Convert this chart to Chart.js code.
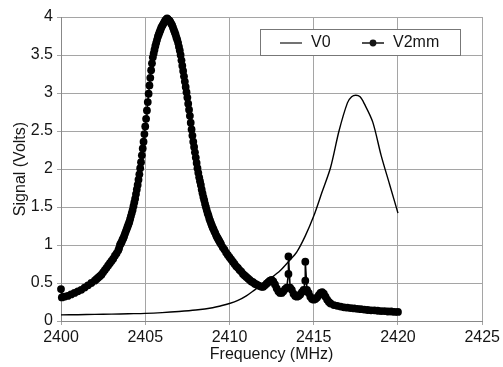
<!DOCTYPE html>
<html>
<head>
<meta charset="utf-8">
<script src="https://cdn.jsdelivr.net/npm/chart.js@4.4.0/dist/chart.umd.min.js"></script>
<style>
  html, body { margin: 0; padding: 0; background: #fff; }
</style>
</head>
<body>
<canvas id="chart" width="503" height="367"></canvas>
<script>
// tick labels
const xTicks = [2400, 2405, 2410, 2415, 2420, 2425];
const yTicks = ["0", "0.5", "1", "1.5", "2", "2.5", "3", "3.5", "4"];
const seriesNames = ["V0", "V2mm"];

// V0 - thin line
const v0Freq = [
  2400, 2401, 2402, 2403, 2404, 2405, 2406, 2407, 2408, 2409,
  2409.5, 2410, 2410.5, 2411, 2411.5, 2412, 2412.5, 2413, 2413.5, 2414,
  2414.5, 2415, 2415.5, 2416, 2416.5, 2417, 2417.25, 2417.5, 2417.75, 2418,
  2418.5, 2419, 2419.5, 2420
];
const v0Signal = [
  0.08, 0.083, 0.087, 0.09, 0.095, 0.10, 0.11, 0.125, 0.145, 0.175,
  0.20, 0.23, 0.27, 0.33, 0.41, 0.49, 0.57, 0.66, 0.78, 0.91,
  1.12, 1.38, 1.70, 2.02, 2.50, 2.87, 2.95, 2.97, 2.95, 2.86,
  2.62, 2.18, 1.80, 1.42
];

// V2mm - dotted series
const v2mmFreq = [
  // left tail
  2400, 2400.05, 2400.2, 2400.4, 2400.6, 2400.8, 2401, 2401.2, 2401.4, 2401.6,
  2401.8, 2402, 2402.1, 2402.2, 2402.3, 2402.4, 2402.5, 2402.6, 2402.7, 2402.8,
  2402.9, 2403, 2403.1, 2403.2, 2403.3, 2403.4, 2403.45,
  // peak
  2403.5, 2403.55, 2403.6, 2403.65, 2403.7, 2403.75, 2403.8, 2403.85, 2403.9, 2403.95,
  2404, 2404.05, 2404.1, 2404.15, 2404.2, 2404.25, 2404.3, 2404.35, 2404.4, 2404.45,
  2404.5, 2404.55, 2404.6, 2404.65, 2404.7, 2404.75, 2404.8, 2404.85, 2404.9, 2404.95,
  2405, 2405.05, 2405.1, 2405.15, 2405.2, 2405.25, 2405.3, 2405.35, 2405.4, 2405.45,
  2405.5, 2405.55, 2405.6, 2405.65, 2405.7, 2405.75, 2405.8, 2405.85, 2405.9, 2405.95,
  2406, 2406.05, 2406.1, 2406.15, 2406.2, 2406.25, 2406.3, 2406.35, 2406.4, 2406.45,
  2406.5, 2406.55, 2406.6, 2406.65, 2406.7, 2406.75, 2406.8, 2406.85, 2406.9, 2406.95,
  2407, 2407.05, 2407.1, 2407.15, 2407.2, 2407.25, 2407.3, 2407.35, 2407.4, 2407.45,
  2407.5, 2407.55, 2407.6, 2407.65, 2407.7, 2407.75, 2407.8, 2407.85, 2407.9, 2407.95,
  2408, 2408.05, 2408.1, 2408.15, 2408.2, 2408.25, 2408.3, 2408.35, 2408.4, 2408.45,
  2408.5, 2408.55, 2408.6, 2408.65, 2408.7, 2408.75, 2408.8, 2408.85, 2408.9, 2408.95,
  2409, 2409.05, 2409.1, 2409.15, 2409.2, 2409.25, 2409.3, 2409.35, 2409.4, 2409.45,
  2409.5,
  // right tail
  2409.6, 2409.7, 2409.8, 2409.9, 2410, 2410.1, 2410.2, 2410.3, 2410.4, 2410.5,
  2410.6, 2410.7, 2410.8, 2410.9, 2411, 2411.1, 2411.2, 2411.3, 2411.4, 2411.5,
  2411.6, 2411.7, 2411.8, 2411.9, 2412,
  // ripples
  2412.1, 2412.2, 2412.3, 2412.4, 2412.5, 2412.6, 2412.7, 2412.8, 2412.9, 2413,
  2413.1, 2413.2, 2413.3, 2413.4, 2413.5, 2413.5, 2413.6, 2413.7, 2413.8, 2413.9,
  2414, 2414.1, 2414.2, 2414.3, 2414.4, 2414.5, 2414.5, 2414.6, 2414.7, 2414.8,
  2414.9, 2415, 2415.1, 2415.2, 2415.3, 2415.4, 2415.5, 2415.6, 2415.7, 2415.8,
  2415.9, 2416,
  // end
  2416.2, 2416.4, 2416.6, 2416.8, 2417, 2417.2, 2417.4, 2417.6, 2417.8, 2418,
  2418.2, 2418.4, 2418.6, 2418.8, 2419, 2419.2, 2419.4, 2419.6, 2419.8, 2420
];
const v2mmSignal = [
  // left tail
  0.42, 0.31, 0.32, 0.33, 0.35, 0.37, 0.39, 0.41, 0.44, 0.47,
  0.50, 0.53, 0.55, 0.57, 0.59, 0.61, 0.64, 0.67, 0.70, 0.73,
  0.76, 0.79, 0.82, 0.86, 0.89, 0.93, 0.96,
  // peak
  1.00, 1.02, 1.04, 1.07, 1.09, 1.12, 1.15, 1.18, 1.21, 1.24,
  1.27, 1.30, 1.34, 1.38, 1.42, 1.46, 1.51, 1.56, 1.61, 1.67,
  1.73, 1.79, 1.86, 1.93, 2.01, 2.09, 2.18, 2.27, 2.36, 2.46,
  2.56, 2.66, 2.77, 2.88, 2.99, 3.10, 3.20, 3.30, 3.39, 3.47,
  3.52, 3.57, 3.62, 3.66, 3.70, 3.74, 3.77, 3.80, 3.83, 3.86,
  3.88, 3.90, 3.92, 3.94, 3.96, 3.97, 3.98, 3.97, 3.96, 3.95,
  3.93, 3.91, 3.89, 3.86, 3.83, 3.80, 3.77, 3.73, 3.70, 3.66,
  3.61, 3.56, 3.50, 3.43, 3.36, 3.29, 3.22, 3.15, 3.08, 3.01,
  2.94, 2.86, 2.78, 2.70, 2.61, 2.52, 2.44, 2.36, 2.29, 2.22,
  2.15, 2.08, 2.01, 1.95, 1.89, 1.84, 1.79, 1.73, 1.68, 1.63,
  1.59, 1.54, 1.50, 1.46, 1.42, 1.39, 1.35, 1.32, 1.29, 1.26,
  1.23, 1.21, 1.18, 1.16, 1.13, 1.11, 1.09, 1.07, 1.05, 1.03,
  1.01,
  // right tail
  0.97, 0.94, 0.90, 0.87, 0.84, 0.81, 0.78, 0.75, 0.72, 0.70,
  0.67, 0.65, 0.62, 0.60, 0.58, 0.56, 0.54, 0.52, 0.51, 0.49,
  0.48, 0.47, 0.46, 0.45, 0.45,
  // ripples
  0.47, 0.49, 0.51, 0.53, 0.54, 0.52, 0.48, 0.43, 0.39, 0.37,
  0.37, 0.39, 0.42, 0.44, 0.62, 0.85, 0.44, 0.41, 0.36, 0.33,
  0.32, 0.33, 0.35, 0.38, 0.41, 0.53, 0.78, 0.41, 0.37, 0.32,
  0.29, 0.28, 0.29, 0.31, 0.34, 0.37, 0.38, 0.36, 0.32, 0.28,
  0.25, 0.23,
  // end
  0.21, 0.20, 0.19, 0.18, 0.175, 0.17, 0.165, 0.16, 0.155, 0.15,
  0.145, 0.14, 0.14, 0.135, 0.13, 0.13, 0.125, 0.125, 0.12, 0.12
];

function toPoints(xs, ys) {
  return xs.map((x, i) => ({ x: x, y: ys[i] }));
}

const FONT = "'Liberation Sans', Arial, sans-serif";
const INK = "#151515";

// legend drawn in a box inside the plot, like the original
const legendBox = {
  id: "legendBox",
  afterDraw(chart) {
    const ctx = chart.ctx;
    ctx.save();
    ctx.fillStyle = "#fff";
    ctx.fillRect(260.5, 29.5, 200, 26);
    ctx.strokeStyle = "#777";
    ctx.lineWidth = 1;
    ctx.strokeRect(260.5, 29.5, 200, 26);

    ctx.strokeStyle = INK;
    ctx.lineWidth = 1.2;
    ctx.beginPath();
    ctx.moveTo(280, 43);
    ctx.lineTo(302, 43);
    ctx.stroke();

    ctx.lineWidth = 1.5;
    ctx.beginPath();
    ctx.moveTo(362, 43);
    ctx.lineTo(384, 43);
    ctx.stroke();
    ctx.fillStyle = INK;
    ctx.beginPath();
    ctx.arc(373, 43, 3.4, 0, Math.PI * 2);
    ctx.fill();

    ctx.font = "16px " + FONT;
    ctx.textBaseline = "middle";
    ctx.fillText(seriesNames[0], 311, 43);
    ctx.fillText(seriesNames[1], 393, 43);
    ctx.restore();
  },
};

new Chart(document.getElementById("chart"), {
  type: "scatter",
  data: {
    datasets: [
      {
        label: seriesNames[0],
        data: toPoints(v0Freq, v0Signal),
        showLine: true,
        borderColor: "#000",
        borderWidth: 1.4,
        pointRadius: 0,
        tension: 0.3,
      },
      {
        label: seriesNames[1],
        data: toPoints(v2mmFreq, v2mmSignal),
        showLine: true,
        borderColor: "#000",
        backgroundColor: "#000",
        borderWidth: 1.6,
        pointRadius: 3.9,
        pointBorderWidth: 0,
        clip: 8,
      },
    ],
  },
  options: {
    responsive: false,
    animation: false,
    devicePixelRatio: 1,
    layout: { padding: { top: 17, right: 18, left: 0, bottom: 0 } },
    plugins: { legend: { display: false }, tooltip: { enabled: false } },
    scales: {
      x: {
        type: "linear",
        min: 2400,
        max: 2425,
        afterBuildTicks: (scale) => {
          scale.ticks = xTicks.map((v) => ({ value: v }));
        },
        afterFit: (scale) => { scale.height = 46; },
        grid: { color: "#a5a5a5", tickLength: 4, lineWidth: 1 },
        border: { color: "#888" },
        ticks: {
          color: INK,
          font: { family: FONT, size: 16 },
          padding: 3,
          maxRotation: 0,
          callback: (v) => String(v),
        },
        title: {
          display: true,
          text: "Frequency (MHz)",
          color: INK,
          font: { family: FONT, size: 16 },
          padding: { top: 0, bottom: 3 },
        },
      },
      y: {
        min: 0,
        max: 4,
        afterBuildTicks: (scale) => {
          scale.ticks = yTicks.map((t) => ({ value: parseFloat(t) }));
        },
        afterFit: (scale) => { scale.width = 61; },
        grid: { color: "#a5a5a5", tickLength: 4, lineWidth: 1 },
        border: { color: "#888" },
        ticks: {
          color: INK,
          font: { family: FONT, size: 16 },
          padding: 4,
          callback: (v) => yTicks[Math.round(v * 2)],
        },
        title: {
          display: true,
          text: "Signal (Volts)",
          color: INK,
          font: { family: FONT, size: 16 },
          padding: { top: 11, bottom: 0 },
        },
      },
    },
  },
  plugins: [legendBox],
});
</script>
</body>
</html>
